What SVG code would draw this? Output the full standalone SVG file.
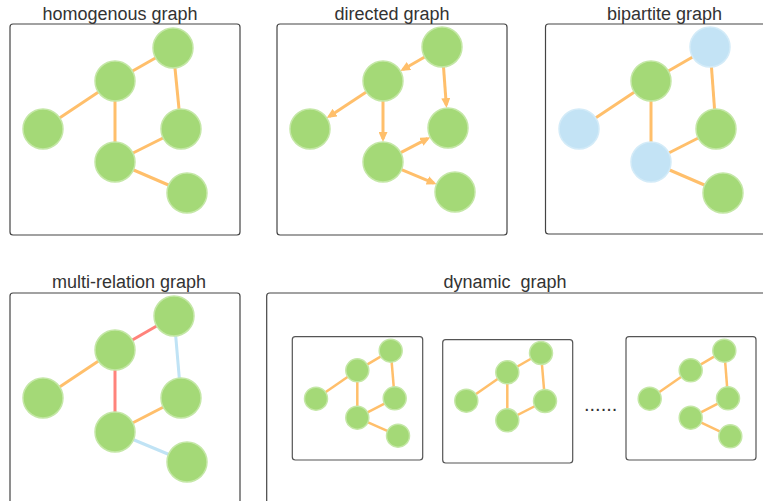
<svg xmlns="http://www.w3.org/2000/svg" width="763" height="501" viewBox="0 0 763 501">
<style>
.title{font-family:"Liberation Sans",Arial,sans-serif;font-size:18px;fill:#333;text-anchor:middle}
.frame{fill:#fff;stroke:#444;stroke-width:1.2}
.sub{fill:#fff;stroke:#555;stroke-width:1.2}
.g{fill:#A4D977;stroke:#C4E7A6;stroke-width:1.5}
.b{fill:#C3E3F5;stroke:#D3EBF8;stroke-width:1.5}
.e{stroke:#FFBF6B;stroke-width:3;fill:none}
.es{stroke:#FFBF6B;stroke-width:2.5;fill:none}
.er{stroke:#FF837B;stroke-width:3;fill:none}
.el{stroke:#C0E3F5;stroke-width:3;fill:none}
.dots{font-family:"Liberation Sans",Arial,sans-serif;font-size:20px;fill:#333}
</style>
<defs>
<marker id="arr" markerUnits="userSpaceOnUse" markerWidth="11" markerHeight="9" refX="7" refY="4.5" orient="auto">
<path d="M0,0 L10,4.5 L0,9 z" fill="#FFBF6B"/>
</marker>
</defs>

<!-- panel frames and titles -->
<g id="panel-homogenous">
<rect class="frame" x="10" y="24" width="230" height="211" rx="3"/>
<text class="title" x="120" y="20">homogenous graph</text>
</g>
<g id="panel-directed">
<rect class="frame" x="277" y="24" width="230" height="211" rx="3"/>
<text class="title" x="392" y="20">directed graph</text>
</g>
<g id="panel-bipartite">
<rect class="frame" x="545.5" y="24" width="240" height="210" rx="3"/>
<text class="title" x="664.5" y="20">bipartite graph</text>
</g>
<g id="panel-multi">
<rect class="frame" x="10" y="293" width="230" height="230" rx="3"/>
<text class="title" x="129" y="288">multi-relation graph</text>
</g>
<g id="panel-dynamic">
<rect class="frame" x="266.7" y="293" width="520" height="230" rx="3"/>
<text class="title" x="505" y="288" xml:space="preserve">dynamic  graph</text>
<rect class="sub" x="292.3" y="336.7" width="130.4" height="123.3" rx="3"/>
<rect class="sub" x="442.7" y="339.7" width="130" height="123.3" rx="3"/>
<rect class="sub" x="626" y="336.7" width="130" height="123.3" rx="3"/>
<text class="dots" x="584" y="411">......</text>
</g>

<g id="connectors">
<!-- homogenous -->
<line class="e" x1="115" y1="81" x2="173" y2="48"/>
<line class="e" x1="115" y1="81" x2="43" y2="129"/>
<line class="e" x1="115" y1="81" x2="115" y2="162"/>
<line class="e" x1="173" y1="48" x2="181" y2="129"/>
<line class="e" x1="181" y1="129" x2="115" y2="162"/>
<line class="e" x1="115" y1="162" x2="187" y2="193"/>
<!-- directed -->
<line class="e" x1="424.7" y1="57" x2="402.9" y2="69.5" marker-end="url(#arr)"/>
<line class="e" x1="366.3" y1="92" x2="329.2" y2="116.4" marker-end="url(#arr)"/>
<line class="e" x1="443.5" y1="66.9" x2="446.3" y2="105.1" marker-end="url(#arr)"/>
<line class="e" x1="383" y1="101" x2="383" y2="139" marker-end="url(#arr)"/>
<line class="e" x1="400.7" y1="152.7" x2="427.6" y2="138.6" marker-end="url(#arr)"/>
<line class="e" x1="401.5" y1="169.7" x2="433.8" y2="183.1" marker-end="url(#arr)"/>
<!-- bipartite -->
<line class="e" x1="651" y1="81" x2="710" y2="47"/>
<line class="e" x1="651" y1="81" x2="579" y2="129"/>
<line class="e" x1="651" y1="81" x2="651" y2="162"/>
<line class="e" x1="710" y1="47" x2="716" y2="129"/>
<line class="e" x1="716" y1="129" x2="651" y2="162"/>
<line class="e" x1="651" y1="162" x2="723" y2="193"/>
<!-- multi-relation -->
<line class="er" x1="115" y1="350" x2="174" y2="316"/>
<line class="e" x1="115" y1="350" x2="43" y2="398"/>
<line class="er" x1="115" y1="350" x2="115" y2="432"/>
<line class="el" x1="174" y1="316" x2="181" y2="398"/>
<line class="e" x1="181" y1="398" x2="115" y2="432"/>
<line class="el" x1="115" y1="432" x2="187" y2="462"/>
<!-- dynamic box 1 -->
<line class="es" x1="357.3" y1="370.3" x2="390.7" y2="350.7"/>
<line class="es" x1="357.3" y1="370.3" x2="316" y2="398.7"/>
<line class="es" x1="357.3" y1="370.3" x2="357.3" y2="417.7"/>
<line class="es" x1="390.7" y1="350.7" x2="394.7" y2="398.3"/>
<line class="es" x1="394.7" y1="398.3" x2="357.3" y2="417.7"/>
<line class="es" x1="357.3" y1="417.7" x2="398" y2="435.7"/>
<!-- dynamic box 2 -->
<line class="es" x1="507.3" y1="372.3" x2="541" y2="353"/>
<line class="es" x1="507.3" y1="372.3" x2="466.3" y2="400.7"/>
<line class="es" x1="507.3" y1="372.3" x2="507.3" y2="420.3"/>
<line class="es" x1="541" y1="353" x2="545" y2="401"/>
<line class="es" x1="545" y1="401" x2="507.3" y2="420.3"/>
<!-- dynamic box 3 -->
<line class="es" x1="690.7" y1="370.3" x2="724.3" y2="350.7"/>
<line class="es" x1="690.7" y1="370.3" x2="649.7" y2="398.7"/>
<line class="es" x1="724.3" y1="350.7" x2="728" y2="398.3"/>
<line class="es" x1="728" y1="398.3" x2="690.7" y2="417.7"/>
<line class="es" x1="690.7" y1="417.7" x2="730.3" y2="436.3"/>
</g>

<!-- homogenous nodes -->
<g id="h1"><circle class="g" cx="173" cy="48" r="20"/></g>
<g id="h2"><circle class="g" cx="115" cy="81" r="20"/></g>
<g id="h3"><circle class="g" cx="43" cy="129" r="20"/></g>
<g id="h4"><circle class="g" cx="181" cy="129" r="20"/></g>
<g id="h5"><circle class="g" cx="115" cy="162" r="20"/></g>
<g id="h6"><circle class="g" cx="187" cy="193" r="20"/></g>
<!-- directed nodes -->
<g id="d1"><circle class="g" cx="442" cy="47" r="20"/></g>
<g id="d2"><circle class="g" cx="383" cy="81" r="20"/></g>
<g id="d3"><circle class="g" cx="310" cy="129" r="20"/></g>
<g id="d4"><circle class="g" cx="448" cy="128" r="20"/></g>
<g id="d5"><circle class="g" cx="383" cy="162" r="20"/></g>
<g id="d6"><circle class="g" cx="455" cy="192" r="20"/></g>
<!-- bipartite nodes -->
<g id="b1"><circle class="b" cx="710" cy="47" r="20"/></g>
<g id="b2"><circle class="g" cx="651" cy="81" r="20"/></g>
<g id="b3"><circle class="b" cx="579" cy="129" r="20"/></g>
<g id="b4"><circle class="g" cx="716" cy="129" r="20"/></g>
<g id="b5"><circle class="b" cx="651" cy="162" r="20"/></g>
<g id="b6"><circle class="g" cx="723" cy="193" r="20"/></g>
<!-- multi-relation nodes -->
<g id="m1"><circle class="g" cx="174" cy="316" r="20"/></g>
<g id="m2"><circle class="g" cx="115" cy="350" r="20"/></g>
<g id="m3"><circle class="g" cx="43" cy="398" r="20"/></g>
<g id="m4"><circle class="g" cx="181" cy="398" r="20"/></g>
<g id="m5"><circle class="g" cx="115" cy="432" r="20"/></g>
<g id="m6"><circle class="g" cx="187" cy="462" r="20"/></g>
<!-- dynamic box 1 nodes -->
<g id="s1a"><circle class="g" cx="390.7" cy="350.7" r="11.5"/></g>
<g id="s1b"><circle class="g" cx="357.3" cy="370.3" r="11.5"/></g>
<g id="s1c"><circle class="g" cx="316" cy="398.7" r="11.5"/></g>
<g id="s1d"><circle class="g" cx="394.7" cy="398.3" r="11.5"/></g>
<g id="s1e"><circle class="g" cx="357.3" cy="417.7" r="11.5"/></g>
<g id="s1f"><circle class="g" cx="398" cy="435.7" r="11.5"/></g>
<!-- dynamic box 2 nodes -->
<g id="s2a"><circle class="g" cx="541" cy="353" r="11.5"/></g>
<g id="s2b"><circle class="g" cx="507.3" cy="372.3" r="11.5"/></g>
<g id="s2c"><circle class="g" cx="466.3" cy="400.7" r="11.5"/></g>
<g id="s2d"><circle class="g" cx="545" cy="401" r="11.5"/></g>
<g id="s2e"><circle class="g" cx="507.3" cy="420.3" r="11.5"/></g>
<!-- dynamic box 3 nodes -->
<g id="s3a"><circle class="g" cx="724.3" cy="350.7" r="11.5"/></g>
<g id="s3b"><circle class="g" cx="690.7" cy="370.3" r="11.5"/></g>
<g id="s3c"><circle class="g" cx="649.7" cy="398.7" r="11.5"/></g>
<g id="s3d"><circle class="g" cx="728" cy="398.3" r="11.5"/></g>
<g id="s3e"><circle class="g" cx="690.7" cy="417.7" r="11.5"/></g>
<g id="s3f"><circle class="g" cx="730.3" cy="436.3" r="11.5"/></g>
</svg>
